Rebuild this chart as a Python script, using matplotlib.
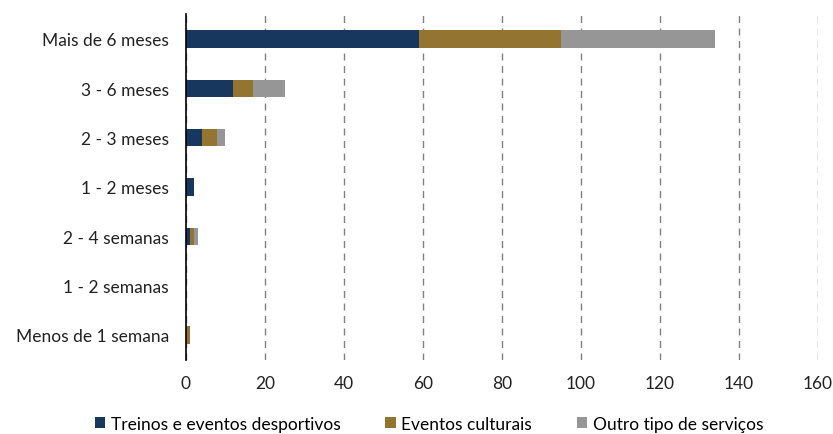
import matplotlib.pyplot as plt
import numpy as np

plt.rcParams["font.family"] = ["Lato", "DejaVu Sans"]

categories = [
    "Mais de 6 meses",
    "3 - 6 meses",
    "2 - 3 meses",
    "1 - 2 meses",
    "2 - 4 semanas",
    "1 - 2 semanas",
    "Menos de 1 semana",
]
treinos = [59, 12, 4, 2, 1, 0, 0]
culturais = [36, 5, 4, 0, 1, 0, 1]
outros = [39, 8, 2, 0, 1, 0, 0]
series_names = ["Treinos e eventos desportivos", "Eventos culturais", "Outro tipo de serviços"]
colors = ["#17375E", "#937531", "#969696"]

fig = plt.figure(figsize=(8.33, 4.35), dpi=100)
ax = fig.add_axes([0.223, 0.171, 0.759, 0.794])

y = np.arange(len(categories))
left = np.zeros(len(categories))
for vals, name, col in zip([treinos, culturais, outros], series_names, colors):
    ax.barh(y, vals, left=left, height=0.35, color=col, label=name, zorder=3)
    left += np.array(vals)

ax.set_yticks(y)
ax.set_yticklabels(categories, fontsize=12.5, color="#222222")
ax.set_ylim(len(categories) - 0.5, -0.5)
ax.set_xlim(0, 160)
ax.set_xticks(np.arange(0, 161, 20))
ax.tick_params(axis="x", labelsize=12.5, colors="#222222", length=0, pad=11)
ax.tick_params(axis="y", length=0, pad=12)

ax.grid(axis="x", linestyle=(0, (5, 4)), color="#808080", linewidth=1, zorder=0)
for s in ["top", "right", "bottom"]:
    ax.spines[s].set_visible(False)
ax.spines["left"].set_color("black")
ax.spines["left"].set_linewidth(1.2)
ax.spines["left"].set_zorder(4)

handles, labels = ax.get_legend_handles_labels()
fig.legend(handles, labels, loc="center", bbox_to_anchor=(0.515, 0.024), ncol=3,
           frameon=False, fontsize=12.5, handlelength=0.6, handleheight=0.6,
           handletextpad=0.3, columnspacing=2.6, borderpad=0)

fig.savefig("out.png", dpi=100)
